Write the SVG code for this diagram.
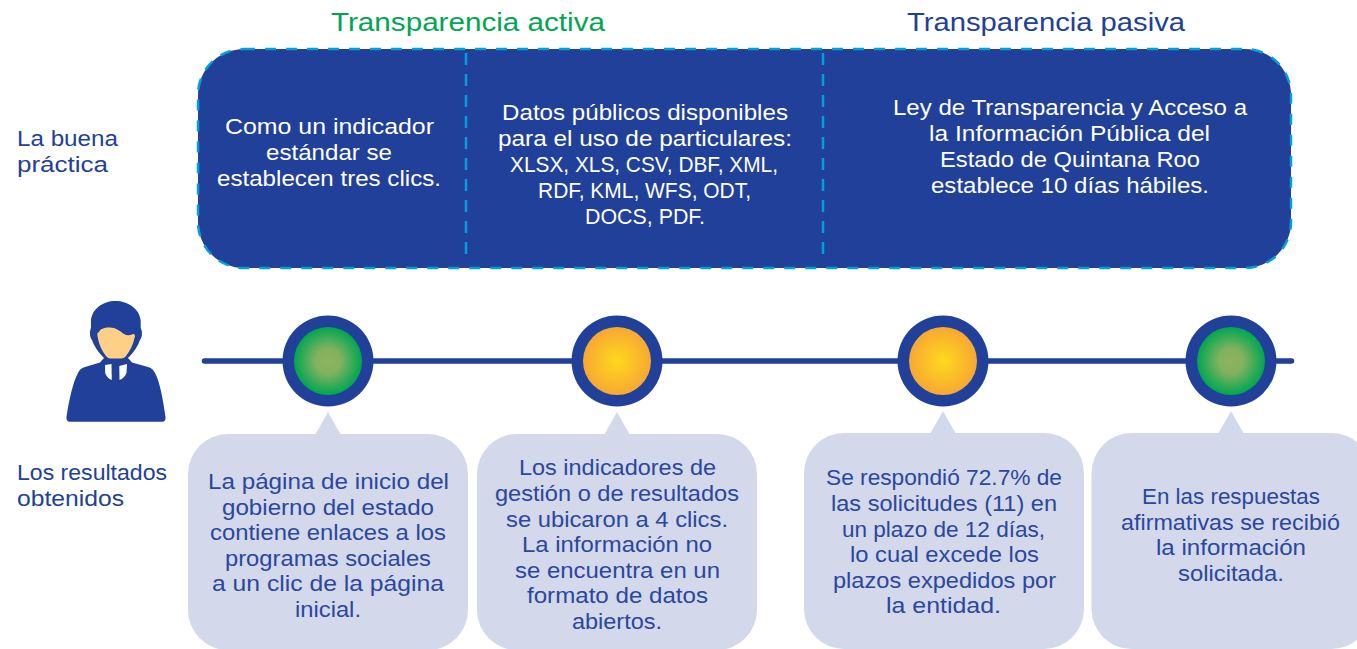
<svg xmlns="http://www.w3.org/2000/svg" width="1357" height="649" viewBox="0 0 1357 649">
<style>
text{font-family:"Liberation Sans",Arial,sans-serif;font-size:22.5px}
.w{fill:#fff}.b{fill:#2b479e}.h{fill:#21409a}
.t{font-size:25.5px}
.bub{fill:#d3d8ea}
.ring{fill:#21409a}
</style>
<defs>
<radialGradient id="green"><stop offset="0" stop-color="#8db35f"/><stop offset="0.35" stop-color="#84b25f"/><stop offset="1" stop-color="#00a651"/></radialGradient>
<radialGradient id="amber"><stop offset="0" stop-color="#ffd91c"/><stop offset="1" stop-color="#f7a833"/></radialGradient>
</defs>
<rect width="1357" height="649" fill="#fff"/>
<g id="titles">
<text lengthAdjust="spacingAndGlyphs" class="t" x="331" y="31" textLength="274" fill="#00a651">Transparencia activa</text>
<text lengthAdjust="spacingAndGlyphs" class="t h" x="907" y="31" textLength="278">Transparencia pasiva</text>
</g>
<g id="row-labels">
<text lengthAdjust="spacingAndGlyphs" class="h" x="17" y="146" textLength="101">La buena</text>
<text lengthAdjust="spacingAndGlyphs" class="h" x="17" y="172" textLength="91">práctica</text>
<text lengthAdjust="spacingAndGlyphs" class="h" x="17" y="480" textLength="150">Los resultados</text>
<text lengthAdjust="spacingAndGlyphs" class="h" x="17" y="506" textLength="107">obtenidos</text>
</g>
<g id="practice-box">
<rect x="198" y="49" width="1093" height="219" rx="46" fill="#21409a" stroke="#00a0dc" stroke-width="2.5" stroke-dasharray="11 10"/>
<path d="M466 53V258M823 53V258" stroke="#00a0dc" stroke-width="2.500" stroke-dasharray="12 9" fill="none"/>
<g id="col-1">
<text lengthAdjust="spacingAndGlyphs" class="w" x="225" y="134" textLength="209">Como un indicador</text>
<text lengthAdjust="spacingAndGlyphs" class="w" x="266" y="160" textLength="126">estándar se</text>
<text lengthAdjust="spacingAndGlyphs" class="w" x="217" y="186" textLength="224">establecen tres clics.</text>
</g>
<g id="col-2">
<text lengthAdjust="spacingAndGlyphs" class="w" x="502" y="120" textLength="286">Datos públicos disponibles</text>
<text lengthAdjust="spacingAndGlyphs" class="w" x="498" y="146" textLength="294">para el uso de particulares:</text>
<text lengthAdjust="spacingAndGlyphs" class="w" x="510" y="172" textLength="268">XLSX, XLS, CSV, DBF, XML,</text>
<text lengthAdjust="spacingAndGlyphs" class="w" x="538" y="198" textLength="213">RDF, KML, WFS, ODT,</text>
<text lengthAdjust="spacingAndGlyphs" class="w" x="585" y="224" textLength="120">DOCS, PDF.</text>
</g>
<g id="col-3">
<text lengthAdjust="spacingAndGlyphs" class="w" x="893" y="115" textLength="354">Ley de Transparencia y Acceso a</text>
<text lengthAdjust="spacingAndGlyphs" class="w" x="929" y="141" textLength="281">la Información Pública del</text>
<text lengthAdjust="spacingAndGlyphs" class="w" x="940" y="167" textLength="260">Estado de Quintana Roo</text>
<text lengthAdjust="spacingAndGlyphs" class="w" x="931" y="193" textLength="278">establece 10 días hábiles.</text>
</g>
</g>
<g id="person">
<path fill="#21409a" d="M66.5 417 C69 400 73 382 78 373 C80 369 82 368 85 367 L100 362.5 L104 358 C98 352 94 346 92 340 C89.5 337 89.5 331 91 328 L91 321 C91.5 309 103 301 115.5 301 C128 301 140 309 140.7 321 L140.7 328 C142.5 331 142.5 337 140 340 C138 346 134 352 128 358 L132 362.5 L148 367 C151 368 153 369 155 373 C160 382 163 400 165.5 417 C166 420 164.5 421.7 162 421.7 L70 421.7 C67.5 421.7 66 420 66.5 417Z"/>
<path fill="#fecf87" d="M97.5 336 C97 333 97.5 332.5 99 332 C100 329 104 327.5 109 327.5 C115 327 120 331 124 334 C127 336 130 335.5 133 334 C135 334 135.5 336 134.5 338 C133 345 130 351 126 356 C125 358 122 358.5 120 358.5 L112 358.5 C109 358.5 107.5 358 106 356 C102 351 99 345 97.5 336Z"/>
<path fill="#fff" d="M105 365 L111.5 364 L111.8 380 C109 379 106 376 105.2 373Z M127 364 L126.5 373 C125.5 376 122.5 379 119.5 380 L119.3 366Z"/>
</g>
<g id="connectors">
<path d="M204.5 361H1291.5" stroke="#21409a" stroke-width="5.5" stroke-linecap="round" fill="none"/>
</g>
<g id="dot-1"><circle class="ring" cx="328" cy="361" r="45.5"/><circle cx="328" cy="361" r="34" fill="url(#green)"/></g>
<g id="dot-2"><circle class="ring" cx="617" cy="361" r="45.5"/><circle cx="617" cy="361" r="34" fill="url(#amber)"/></g>
<g id="dot-3"><circle class="ring" cx="943" cy="361" r="45.5"/><circle cx="943" cy="361" r="34" fill="url(#amber)"/></g>
<g id="dot-4"><circle class="ring" cx="1231" cy="361" r="45.5"/><circle cx="1231" cy="361" r="34" fill="url(#green)"/></g>
<g id="bubble-1">
<rect class="bub" x="188" y="434" width="280" height="216" rx="40"/><path class="bub" d="M315 435L328 412L341 435Z"/>
<text lengthAdjust="spacingAndGlyphs" class="b" x="208" y="489" textLength="241">La página de inicio del</text>
<text lengthAdjust="spacingAndGlyphs" class="b" x="222" y="515" textLength="212">gobierno del estado</text>
<text lengthAdjust="spacingAndGlyphs" class="b" x="210" y="540" textLength="236">contiene enlaces a los</text>
<text lengthAdjust="spacingAndGlyphs" class="b" x="225" y="566" textLength="206">programas sociales</text>
<text lengthAdjust="spacingAndGlyphs" class="b" x="212" y="591" textLength="232">a un clic de la página</text>
<text lengthAdjust="spacingAndGlyphs" class="b" x="295" y="617" textLength="66">inicial.</text>
</g>
<g id="bubble-2">
<rect class="bub" x="477" y="434" width="280" height="216" rx="40"/><path class="bub" d="M604 435L617 412L630 435Z"/>
<text lengthAdjust="spacingAndGlyphs" class="b" x="519" y="475" textLength="197">Los indicadores de</text>
<text lengthAdjust="spacingAndGlyphs" class="b" x="495" y="501" textLength="244">gestión o de resultados</text>
<text lengthAdjust="spacingAndGlyphs" class="b" x="506" y="527" textLength="222">se ubicaron a 4 clics.</text>
<text lengthAdjust="spacingAndGlyphs" class="b" x="522" y="552" textLength="190">La información no</text>
<text lengthAdjust="spacingAndGlyphs" class="b" x="515" y="578" textLength="205">se encuentra en un</text>
<text lengthAdjust="spacingAndGlyphs" class="b" x="527" y="603" textLength="181">formato de datos</text>
<text lengthAdjust="spacingAndGlyphs" class="b" x="572" y="629" textLength="90">abiertos.</text>
</g>
<g id="bubble-3">
<rect class="bub" x="804" y="433" width="280" height="216" rx="40"/><path class="bub" d="M930 434L943 411L956 434Z"/>
<text lengthAdjust="spacingAndGlyphs" class="b" x="826" y="485" textLength="236">Se respondió 72.7% de</text>
<text lengthAdjust="spacingAndGlyphs" class="b" x="831" y="511" textLength="226">las solicitudes (11) en</text>
<text lengthAdjust="spacingAndGlyphs" class="b" x="842" y="537" textLength="203">un plazo de 12 días,</text>
<text lengthAdjust="spacingAndGlyphs" class="b" x="850" y="562" textLength="189">lo cual excede los</text>
<text lengthAdjust="spacingAndGlyphs" class="b" x="833" y="588" textLength="223">plazos expedidos por</text>
<text lengthAdjust="spacingAndGlyphs" class="b" x="886" y="613" textLength="115">la entidad.</text>
</g>
<g id="bubble-4">
<rect class="bub" x="1091.500" y="433" width="280" height="216" rx="40"/><path class="bub" d="M1218 434L1231 411L1244 434Z"/>
<text lengthAdjust="spacingAndGlyphs" class="b" x="1142" y="504" textLength="178">En las respuestas</text>
<text lengthAdjust="spacingAndGlyphs" class="b" x="1121" y="530" textLength="219">afirmativas se recibió</text>
<text lengthAdjust="spacingAndGlyphs" class="b" x="1156" y="555" textLength="150">la información</text>
<text lengthAdjust="spacingAndGlyphs" class="b" x="1178" y="581" textLength="106">solicitada.</text>
</g>
</svg>
